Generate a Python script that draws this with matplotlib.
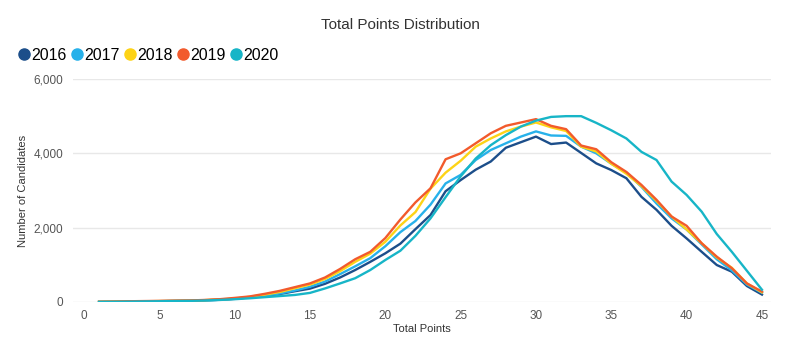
import matplotlib.pyplot as plt
from matplotlib.lines import Line2D
from matplotlib.ticker import FuncFormatter

plt.rcParams["font.family"] = ["Liberation Sans", "DejaVu Sans"]

# points axis
points = list(range(1, 46))

# candidates per total points
y2016 = [3, 8, 12, 18, 22, 28, 33, 45, 60, 85, 125, 165, 215, 290, 360,
         490, 660, 860, 1080, 1310, 1570, 1960, 2340, 2980, 3280, 3560, 3780, 4150, 4300, 4450,
         4250, 4290, 4010, 3730, 3550, 3330, 2830, 2480, 2050, 1710, 1350, 995, 815, 430, 200]
y2017 = [5, 8, 12, 18, 22, 28, 35, 45, 60, 90, 130, 170, 230, 310, 410,
         550, 750, 960, 1180, 1500, 1880, 2180, 2620, 3190, 3420, 3820, 4090, 4270, 4450, 4590,
         4480, 4470, 4180, 4000, 3720, 3480, 3100, 2650, 2250, 1950, 1550, 1150, 850, 470, 250]
y2018 = [5, 10, 15, 20, 25, 30, 35, 50, 70, 90, 140, 200, 270, 370, 470,
         620, 830, 1080, 1300, 1620, 2060, 2420, 3050, 3480, 3800, 4180, 4400, 4590, 4720, 4830,
         4700, 4600, 4180, 4050, 3720, 3450, 3120, 2720, 2300, 1950, 1580, 1200, 920, 500, 260]
y2019 = [5, 10, 20, 25, 30, 35, 40, 55, 75, 110, 150, 220, 300, 400, 500,
         660, 890, 1150, 1350, 1720, 2220, 2680, 3060, 3840, 4000, 4270, 4540, 4740, 4830, 4920,
         4740, 4650, 4210, 4110, 3760, 3500, 3150, 2750, 2300, 2050, 1580, 1220, 910, 500, 280]
y2020 = [2, 5, 10, 15, 20, 25, 30, 40, 55, 75, 100, 130, 160, 190, 245,
         365, 500, 640, 860, 1130, 1380, 1780, 2250, 2820, 3380, 3860, 4220, 4490, 4720, 4880,
         4980, 5000, 5000, 4820, 4620, 4400, 4040, 3820, 3240, 2880, 2430, 1830, 1350, 840, 330]

years = ["2016", "2017", "2018", "2019", "2020"]
series = [y2016, y2017, y2018, y2019, y2020]
colors = ["#1c4e8a", "#27b1ea", "#fdd316", "#f25a2c", "#17b5c7"]

fig = plt.figure(figsize=(8, 3.55), dpi=100)
ax = fig.add_axes([73 / 800, 1 - 302 / 355, (771 - 73) / 800, (302 - 79) / 355])

for yr, vals, c in zip(years, series, colors):
    ax.plot(points, vals, color=c, linewidth=1.7, label=yr)

ax.set_xlim(-0.73, 45.6)
ax.set_ylim(0, 6000)
ax.set_xticks(range(0, 46, 5))
ax.set_yticks([0, 2000, 4000, 6000])
ax.yaxis.set_major_formatter(FuncFormatter(lambda v, p: f"{int(v):,}"))
ax.grid(axis="y", color="#e8e8e8", linewidth=1)
ax.set_axisbelow(True)
for s in ax.spines.values():
    s.set_visible(False)
ax.tick_params(length=0, labelsize=8.5, colors="#555555", pad=6)
ax.tick_params(axis="y", pad=7)

ax.set_xlabel("Total Points", fontsize=8, color="#333333", labelpad=1)
ax.set_ylabel("Number of Candidates", fontsize=8, color="#333333", labelpad=4)

fig.text(0.5, 1 - 25 / 355, "Total Points Distribution", ha="center", va="center",
         fontsize=11, color="#333333")

handles = [Line2D([], [], linestyle="none", marker="o", markersize=8,
                  markerfacecolor=c, markeredgecolor=c) for c in colors]
fig.legend(handles, years, loc="center left", bbox_to_anchor=(20 / 800, 1 - 55 / 355),
           ncol=5, frameon=False, fontsize=11.5, handlelength=0.5, handletextpad=0.2,
           columnspacing=0.4, borderaxespad=0, borderpad=0)

fig.savefig("out.png", dpi=100)
